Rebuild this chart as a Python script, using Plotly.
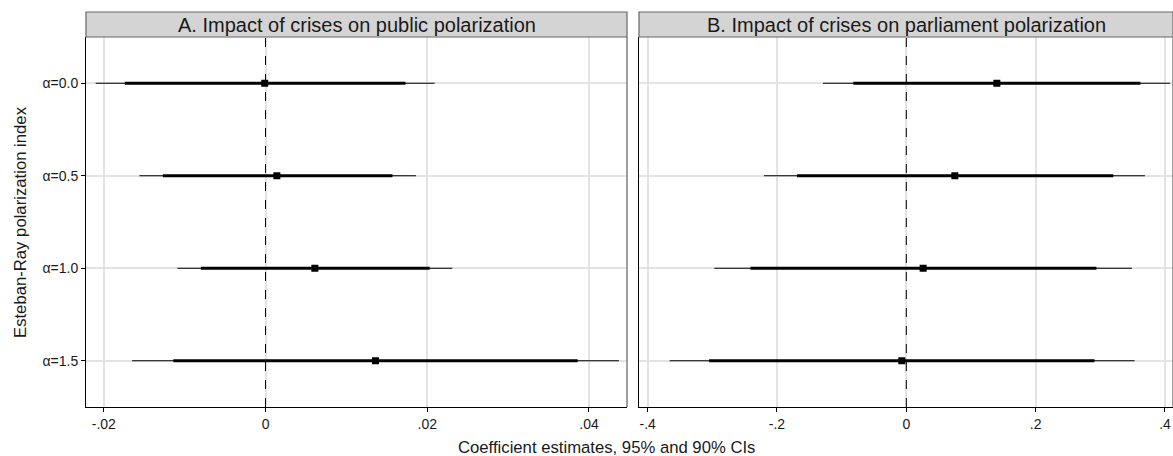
import plotly.graph_objects as go

# ---- data ----
categories = ["α=0.0", "α=0.5", "α=1.0", "α=1.5"]

# Panel A: public polarization
a_est = [-0.0001, 0.0014, 0.0061, 0.0136]
a_lo95 = [-0.0210, -0.0156, -0.0109, -0.0165]
a_hi95 = [0.0209, 0.0186, 0.0231, 0.0437]
a_lo90 = [-0.0174, -0.0127, -0.0080, -0.0114]
a_hi90 = [0.0173, 0.0157, 0.0203, 0.0386]

# Panel B: parliament polarization
b_est = [0.140, 0.075, 0.026, -0.007]
b_lo95 = [-0.129, -0.220, -0.297, -0.366]
b_hi95 = [0.408, 0.369, 0.349, 0.353]
b_lo90 = [-0.082, -0.169, -0.241, -0.305]
b_hi90 = [0.362, 0.320, 0.294, 0.291]

panel_titles = ["A. Impact of crises on public polarization",
                "B. Impact of crises on parliament polarization"]
a_ticks = [-0.02, 0, 0.02, 0.04]
a_ticklabels = ["-.02", "0", ".02", ".04"]
b_ticks = [-0.4, -0.2, 0, 0.2, 0.4]
b_ticklabels = ["-.4", "-.2", "0", ".2", ".4"]
x_title = "Coefficient estimates, 95% and 90% CIs"
y_title = "Esteban-Ray polarization index"

FONT = "Liberation Sans, Arial, sans-serif"
W, H = 1173, 456
ML, MR, MT, MB = 86, 0, 37, 49
PW = W - ML - MR
PH = H - MT - MB

def seg(lo, hi, cats):
    xs, ys = [], []
    for l, h, c in zip(lo, hi, cats):
        xs += [l, h, None]
        ys += [c, c, None]
    return xs, ys

fig = go.Figure()
panels = [
    ("x", "y", a_est, a_lo95, a_hi95, a_lo90, a_hi90),
    ("x2", "y2", b_est, b_lo95, b_hi95, b_lo90, b_hi90),
]
for xa, ya, est, lo95, hi95, lo90, hi90 in panels:
    xs, ys = seg(lo95, hi95, categories)
    fig.add_trace(go.Scatter(x=xs, y=ys, mode="lines", xaxis=xa, yaxis=ya,
                             line=dict(color="black", width=1.2), showlegend=False))
    xs, ys = seg(lo90, hi90, categories)
    fig.add_trace(go.Scatter(x=xs, y=ys, mode="lines", xaxis=xa, yaxis=ya,
                             line=dict(color="black", width=2.8), showlegend=False))
    fig.add_trace(go.Scatter(x=est, y=categories, mode="markers", xaxis=xa, yaxis=ya,
                             marker=dict(symbol="square", color="black", size=7,
                                         line=dict(width=0)),
                             showlegend=False))

dA = [0, (627 - ML) / PW]
dB = [(639 - ML) / PW, 1]

grid = "#e3e3e3"
common_x = dict(showgrid=True, gridcolor=grid, gridwidth=1.5, zeroline=False,
                showline=True, linecolor="black", linewidth=1,
                ticks="outside", ticklen=4, tickcolor="black", automargin=False,
                tickfont=dict(family=FONT, size=14, color="#1a1a1a"))
common_y = dict(type="category", categoryarray=categories, range=[3.5, -0.5],
                showgrid=True, gridcolor=grid, gridwidth=1.5, zeroline=False,
                showline=True, linecolor="black", linewidth=1, automargin=False)

fig.update_layout(
    width=W, height=H,
    margin=dict(l=ML, r=MR, t=MT, b=MB, autoexpand=False),
    paper_bgcolor="white", plot_bgcolor="white",
    font=dict(family=FONT, color="#1a1a1a"),
    xaxis=dict(domain=dA, range=[-0.0222, 0.0447], tickvals=a_ticks,
               ticktext=a_ticklabels, anchor="y", **common_x),
    xaxis2=dict(domain=dB, range=[-0.4134, 0.4124], tickvals=b_ticks,
                ticktext=b_ticklabels, anchor="y2", **common_x),
    yaxis=dict(anchor="x", ticks="outside", ticklen=4, tickcolor="black",
               tickfont=dict(family=FONT, size=14, color="#1a1a1a"), **common_y),
    yaxis2=dict(anchor="x2", matches="y", showticklabels=False, ticks="", **common_y),
)

shapes = []
strip_h = 25 / PH
for (d, xr) in [(dA, "x"), (dB, "x2")]:
    # dashed zero line
    shapes.append(dict(type="line", xref=xr, yref="paper", x0=0, x1=0, y0=0, y1=1,
                       line=dict(color="black", width=1, dash="dash"), layer="above"))
    # grey panel border (right)
    shapes.append(dict(type="line", xref="paper", yref="paper", x0=d[1], x1=d[1],
                       y0=0, y1=1, line=dict(color="#7f7f7f", width=1.5)))
    # strip
    shapes.append(dict(type="rect", xref="paper", yref="paper", x0=d[0], x1=d[1],
                       y0=1, y1=1 + strip_h, fillcolor="#d4d4d4",
                       line=dict(color="#666", width=1.2)))
fig.update_layout(shapes=shapes)

annotations = []
for (d, t) in zip([dA, dB], panel_titles):
    annotations.append(dict(text=t, xref="paper", yref="paper", x=(d[0] + d[1]) / 2,
                            y=1 + strip_h / 2, xanchor="center", yanchor="middle",
                            showarrow=False, font=dict(family=FONT, size=20, color="#1a1a1a")))
annotations.append(dict(text=x_title, xref="paper", yref="paper", x=(606 - ML) / PW,
                        y=-40 / PH, xanchor="center", yanchor="middle", showarrow=False,
                        font=dict(family=FONT, size=16.7, color="#1a1a1a")))
annotations.append(dict(text=y_title, xref="paper", yref="paper", x=(20 - ML) / PW,
                        y=0.5, xanchor="center", yanchor="middle", textangle=-90,
                        showarrow=False, font=dict(family=FONT, size=16.7, color="#1a1a1a")))
fig.update_layout(annotations=annotations)

fig.write_html("out.html", config={"displayModeBar": False},
               post_script="document.body.style.margin='0';document.body.style.overflow='hidden';")
